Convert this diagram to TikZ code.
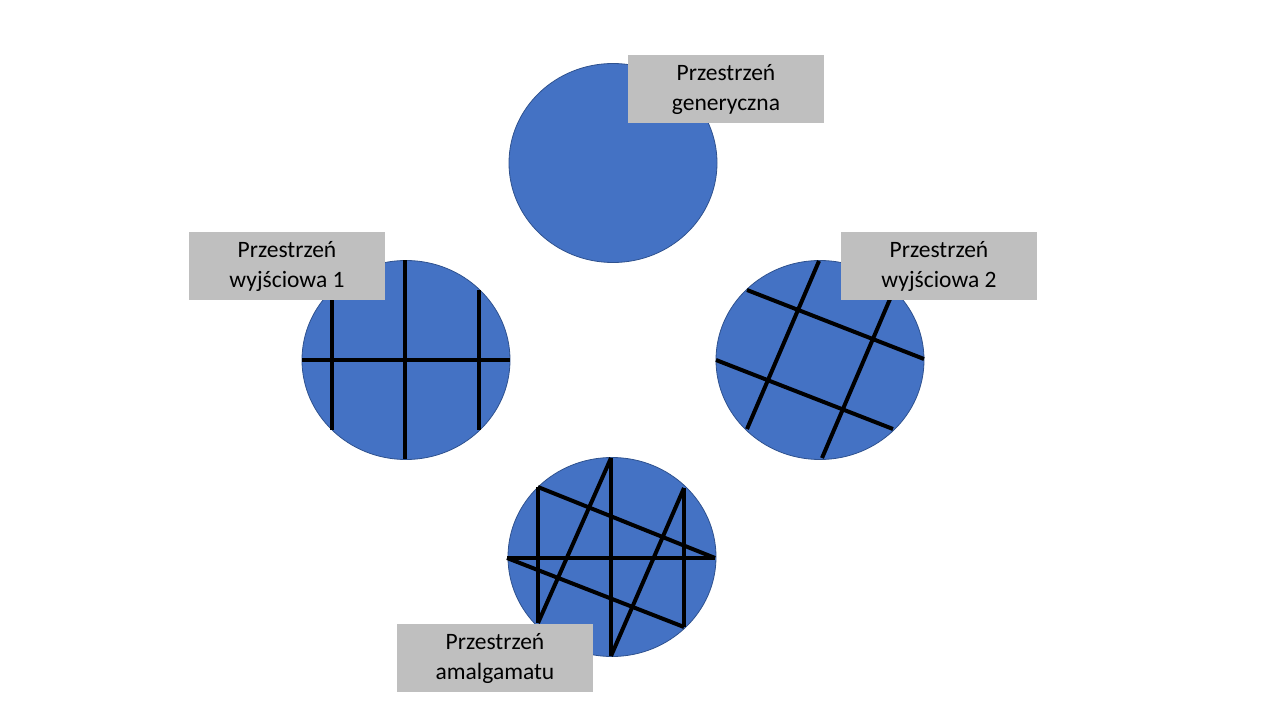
\documentclass[tikz,border=0pt]{standalone}
\usepackage{fontspec}
\setmainfont{Carlito}
\usetikzlibrary{shapes.geometric}
\definecolor{diskblue}{HTML}{4472C4}
\definecolor{diskedge}{HTML}{2F528F}
\definecolor{taggray}{HTML}{BFBFBF}
\begin{document}
\begin{tikzpicture}[x=1pt,y=-1pt,
  disc/.style={ellipse, fill=diskblue, draw=diskedge, line width=0.8pt,
    minimum width=208pt, minimum height=199pt, inner sep=0pt},
  gridline/.style={line width=4pt, draw=black},
  tag/.style={fill=taggray, minimum width=196pt, minimum height=68pt,
    inner sep=0pt, align=center, font=\fontsize{23.5}{30}\selectfont, text=black}]
\fill[white] (0,0) rectangle (1280,720);
\useasboundingbox (0,0) rectangle (1280,720);

% generic space
\node[disc] (gen) at (613,163) {};
\node[tag] (genlab) at (726,89) {Przestrzeń\\generyczna};

% input space 1
\node[disc] (src1) at (406,360) {};
\draw[gridline] (302,360) -- (510,360);
\draw[gridline] (405,260) -- (405,459);
\draw[gridline] (332,290) -- (332,430);
\draw[gridline] (479,290) -- (479,430);
\node[tag] (lab1) at (287,266) {Przestrzeń\\wyjściowa 1};

% input space 2
\node[disc] (src2) at (820,360) {};
\draw[gridline] (747,290) -- (924,359);
\draw[gridline] (716,360) -- (893,429);
\draw[gridline] (819,261) -- (747,429);
\draw[gridline] (893,292) -- (822,458);
\node[tag] (lab2) at (939,266) {Przestrzeń\\wyjściowa 2};

% blend space
\node[disc] (blend) at (612,557) {};
\draw[gridline] (507,558) -- (715,558);
\draw[gridline] (538,487) -- (538,623);
\draw[gridline] (538,623) -- (611,458);
\draw[gridline] (611,458) -- (611,656);
\draw[gridline] (611,656) -- (684,488);
\draw[gridline] (684,488) -- (684,627);
\draw[gridline] (538,487) -- (715,558);
\draw[gridline] (507,558) -- (684,627);
\node[tag] (lab3) at (495,658) {Przestrzeń\\amalgamatu};
\end{tikzpicture}
\end{document}
